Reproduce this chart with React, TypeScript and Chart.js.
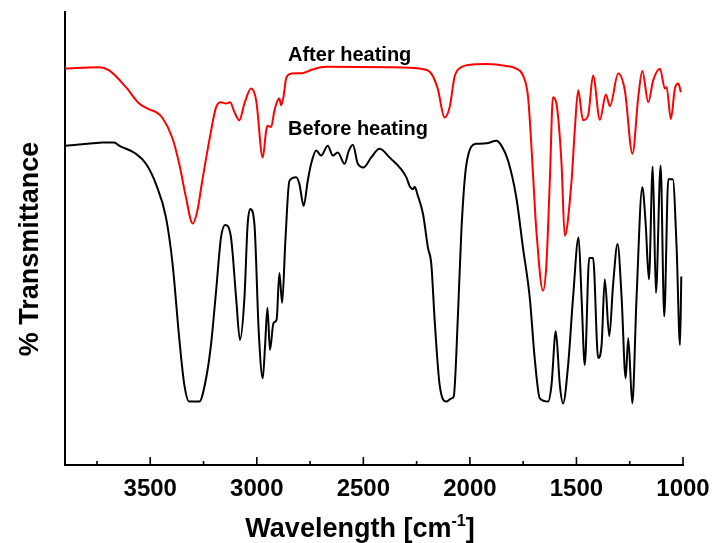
import React, { useEffect, useRef } from "react";
import { Chart, registerables } from "chart.js";

Chart.register(...registerables);

// Wavenumber (cm^-1) and transmittance (a.u., %)
const AFTER_WN = [
  3900, 3740, 3693, 3614, 3552, 3505, 3473, 3444, 3397, 3364,
  3332, 3301, 3279, 3256, 3223, 3191, 3168, 3144, 3125, 3105,
  3082, 3058, 3027, 3003, 2972, 2956, 2949, 2933, 2917, 2902,
  2894, 2886, 2875, 2862, 2839, 2786, 2739, 2674, 2377, 2222,
  2181, 2151, 2119, 2095, 2072, 2048, 1987, 1923, 1829, 1782,
  1751, 1727, 1711, 1696, 1688, 1657, 1641, 1625, 1610, 1594,
  1570, 1555, 1523, 1508, 1492, 1469, 1445, 1422, 1390, 1362,
  1343, 1304, 1273, 1237, 1210, 1191, 1163, 1140, 1108, 1085,
  1077, 1057, 1038, 1022, 1010,
];
const AFTER_T = [
  87.5, 87.8, 87.1, 83.4, 79.8, 78.5, 77.9, 76.7, 72.3, 66.5,
  59.0, 53.3, 56.1, 62.7, 71.6, 79.0, 80.1, 79.8, 80.1, 77.9,
  76.1, 79.8, 83.1, 80.5, 67.9, 73.8, 74.9, 74.6, 78.3, 80.5,
  80.9, 79.4, 81.2, 85.4, 86.4, 86.5, 87.3, 87.9, 87.8, 87.4,
  86.4, 83.1, 76.7, 79.0, 85.7, 87.6, 88.4, 88.5, 88.1, 87.5,
  86.0, 81.2, 70.1, 57.6, 51.7, 38.5, 44.3, 62.7, 81.2, 79.8,
  66.5, 50.6, 62.7, 73.8, 82.7, 76.1, 77.2, 86.0, 76.2, 81.8,
  79.2, 86.4, 82.7, 68.7, 81.2, 87.0, 80.1, 84.9, 87.5, 83.1,
  83.4, 76.4, 83.1, 84.2, 82.3,
];

const BEFORE_WN = [
  3900, 3771, 3724, 3669, 3646, 3567, 3520, 3473, 3426, 3395,
  3364, 3340, 3317, 3270, 3238, 3215, 3191, 3168, 3148, 3121,
  3097, 3079, 3058, 3043, 3030, 3011, 2991, 2972, 2961, 2950,
  2938, 2922, 2907, 2894, 2881, 2866, 2847, 2815, 2800, 2780,
  2761, 2745, 2721, 2698, 2667, 2643, 2620, 2588, 2568, 2549,
  2526, 2499, 2463, 2424, 2377, 2298, 2283, 2267, 2259, 2244,
  2220, 2197, 2181, 2165, 2142, 2110, 2087, 2076, 2056, 2040,
  2016, 1970, 1923, 1876, 1852, 1821, 1782, 1751, 1719, 1696,
  1672, 1633, 1617, 1597, 1578, 1563, 1539, 1516, 1490, 1476,
  1461, 1440, 1422, 1398, 1382, 1367, 1346, 1328, 1307, 1288,
  1269, 1257, 1238, 1218, 1191, 1175, 1160, 1142, 1127, 1105,
  1088, 1069, 1048, 1030, 1014, 1008,
];
const BEFORE_T = [
  70.5, 71.0, 71.2, 71.2, 70.5, 68.7, 66.5, 62.0, 54.6, 44.3,
  28.0, 17.7, 14.0, 14.0, 19.1, 26.5, 38.4, 50.2, 53.0, 50.2,
  36.9, 27.6, 36.9, 53.1, 56.5, 53.1, 29.5, 19.1, 26.5, 34.7,
  25.4, 31.3, 32.1, 42.4, 35.8, 49.4, 62.7, 63.5, 62.0, 57.2,
  62.7, 66.5, 69.4, 68.3, 70.5, 68.3, 69.0, 66.5, 69.4, 70.7,
  66.5, 65.7, 67.9, 69.8, 67.9, 63.5, 61.6, 60.9, 61.4, 59.4,
  55.4, 48.0, 44.3, 31.7, 17.7, 14.0, 14.7, 15.1, 33.2, 51.7,
  66.5, 70.9, 71.0, 71.6, 70.5, 67.2, 59.0, 48.0, 36.9, 23.6,
  14.7, 14.0, 17.7, 29.5, 17.7, 13.6, 22.1, 36.9, 50.2, 36.9,
  22.1, 45.7, 45.7, 23.6, 26.5, 41.0, 28.4, 39.8, 48.8, 36.9,
  19.1, 28.0, 13.6, 36.9, 61.3, 53.1, 41.0, 65.9, 38.0, 66.1,
  32.8, 63.1, 63.1, 48.0, 26.5, 41.6,
];

const X_MAJOR_TICKS = [3500, 3000, 2500, 2000, 1500, 1000];
const X_MINOR_TICKS = [3750, 3250, 2750, 2250, 1750, 1250];
const X_MIN = 1000;
const X_MAX = 3900;

const SERIES_LABELS = ["After heating", "Before heating"];
const X_TITLE = "Wavelength [cm";
const X_TITLE_SUP = "-1";
const X_TITLE_END = "]";
const Y_TITLE = "% Transmittance";

const FONT = "'Liberation Sans', Arial, Helvetica, sans-serif";

const toPoints = (xs: number[], ys: number[]) => xs.map((x, i) => ({ x, y: ys[i] }));

const decorPlugin = {
  id: "decor",
  afterDraw(chart: any) {
    const { ctx, chartArea, scales } = chart;
    const xs = scales.x;
    ctx.save();
    ctx.strokeStyle = "#000";
    ctx.lineWidth = 1.6;
    ctx.beginPath();
    X_MAJOR_TICKS.forEach((v) => {
      const px = xs.getPixelForValue(v);
      ctx.moveTo(px, chartArea.bottom);
      ctx.lineTo(px, chartArea.bottom - 8);
    });
    X_MINOR_TICKS.forEach((v) => {
      const px = xs.getPixelForValue(v);
      ctx.moveTo(px, chartArea.bottom);
      ctx.lineTo(px, chartArea.bottom - 4);
    });
    ctx.stroke();

    ctx.fillStyle = "#000";
    // x title with superscript
    const mainFont = `bold 27px ${FONT}`;
    const supFont = `bold 16px ${FONT}`;
    ctx.font = mainFont;
    const w1 = ctx.measureText(X_TITLE).width;
    const w3 = ctx.measureText(X_TITLE_END).width;
    ctx.font = supFont;
    const w2 = ctx.measureText(X_TITLE_SUP).width;
    const total = w1 + w2 + w3;
    const cx = 360;
    const base = 537;
    let sx = cx - total / 2;
    ctx.textBaseline = "alphabetic";
    ctx.textAlign = "left";
    ctx.font = mainFont;
    ctx.fillText(X_TITLE, sx, base);
    sx += w1;
    ctx.font = supFont;
    ctx.fillText(X_TITLE_SUP, sx, base - 11);
    sx += w2;
    ctx.font = mainFont;
    ctx.fillText(X_TITLE_END, sx, base);

    // y title
    ctx.save();
    ctx.translate(38, 249);
    ctx.rotate(-Math.PI / 2);
    ctx.textAlign = "center";
    ctx.font = mainFont;
    ctx.fillText(Y_TITLE, 0, 0);
    ctx.restore();

    // series annotations
    ctx.font = `bold 20px ${FONT}`;
    ctx.textAlign = "left";
    ctx.fillText(SERIES_LABELS[0], chartArea.left + 223, 61);
    ctx.fillText(SERIES_LABELS[1], chartArea.left + 223, 135);
    ctx.restore();
  },
};

export default function App() {
  const ref = useRef<HTMLCanvasElement | null>(null);

  useEffect(() => {
    if (!ref.current) return;
    const chart = new Chart(ref.current, {
      type: "line",
      data: {
        datasets: [
          {
            label: SERIES_LABELS[0],
            data: toPoints(AFTER_WN, AFTER_T),
            borderColor: "#ff0000",
            borderWidth: 2,
            pointRadius: 0,
            cubicInterpolationMode: "monotone",
            fill: false,
          },
          {
            label: SERIES_LABELS[1],
            data: toPoints(BEFORE_WN, BEFORE_T),
            borderColor: "#000000",
            borderWidth: 2,
            pointRadius: 0,
            cubicInterpolationMode: "monotone",
            fill: false,
          },
        ],
      },
      options: {
        animation: false,
        responsive: false,
        devicePixelRatio: 1,
        layout: { padding: { left: 0, top: 12, right: 30, bottom: 0 } },
        plugins: {
          legend: { display: false },
          tooltip: { enabled: false },
          title: { display: false },
        },
        scales: {
          x: {
            type: "linear",
            reverse: true,
            min: X_MIN,
            max: X_MAX,
            afterBuildTicks: (scale: any) => {
              scale.ticks = X_MAJOR_TICKS.map((v) => ({ value: v }));
            },
            afterFit: (scale: any) => {
              scale.height = 78;
              scale.paddingLeft = 0;
              scale.paddingRight = 0;
            },
            grid: { display: false, drawTicks: false },
            border: { display: true, color: "#000", width: 2 },
            ticks: {
              color: "#000",
              padding: 10,
              maxRotation: 0,
              autoSkip: false,
              font: { family: FONT, size: 24, weight: "bold" },
              callback: (v: any) => String(v),
            },
          },
          y: {
            type: "linear",
            min: 0,
            max: 100,
            afterFit: (scale: any) => {
              scale.width = 65;
              scale.paddingTop = 0;
              scale.paddingBottom = 0;
            },
            grid: { display: false, drawTicks: false },
            border: { display: true, color: "#000", width: 2 },
            ticks: { display: false },
          },
        },
      },
      plugins: [decorPlugin],
    } as any);
    return () => chart.destroy();
  }, []);

  return (
    <div style={{ position: "fixed", left: 0, top: 0, width: 713, height: 543, background: "#fff" }}>
      <canvas ref={ref} width={713} height={543} />
    </div>
  );
}
